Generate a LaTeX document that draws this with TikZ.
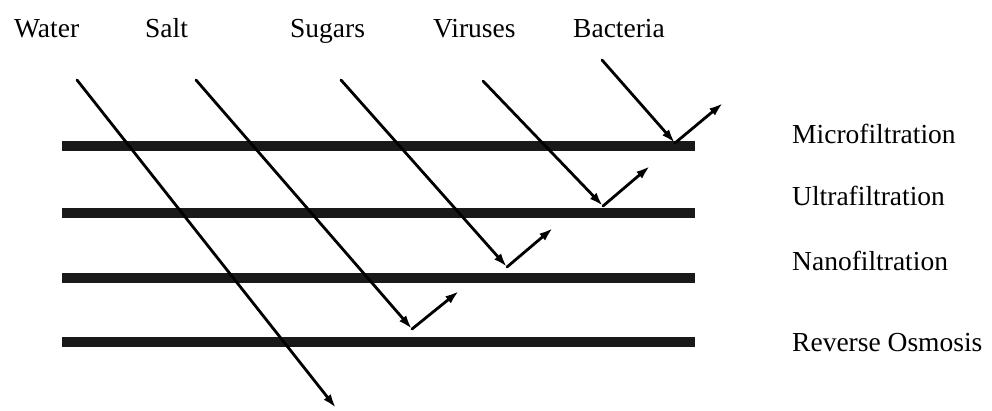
\documentclass[tikz,border=0pt]{standalone}
\usepackage{fontspec}
\setmainfont{Liberation Serif}
\usepackage{tikz}
\usetikzlibrary{arrows.meta, positioning}

\begin{document}
\begin{tikzpicture}[
  x=1pt, y=-1pt,
  lbl/.style={font=\fontsize{27.5}{32}\selectfont, inner sep=0pt, anchor=base west},
  membrane/.style={line width=10pt, black!90},
  flow/.style={-{Latex[length=14pt, width=9pt]}, line width=2.8pt, line cap=round}
]
\useasboundingbox (0,0) rectangle (992,410);

\node[lbl] (water)    at (14,37)  {Water};
\node[lbl] (salt)     at (145,37) {Salt};
\node[lbl] (sugars)   at (290,37) {Sugars};
\node[lbl] (viruses)  at (433,37) {Viruses};
\node[lbl] (bacteria) at (573,37) {Bacteria};

\node[lbl] (micro) at (792,143) {Microfiltration};
\node[lbl] (ultra) at (792,205) {Ultrafiltration};
\node[lbl] (nano)  at (792,270) {Nanofiltration};
\node[lbl] (ro)    at (792,351) {Reverse Osmosis};

\coordinate (m1l) at (62,146);  \coordinate (m1r) at (695,146);
\coordinate (m2l) at (62,213);  \coordinate (m2r) at (695,213);
\coordinate (m3l) at (62,278);  \coordinate (m3r) at (695,278);
\coordinate (m4l) at (62,342);  \coordinate (m4r) at (695,342);
\draw[membrane] (m1l) -- (m1r);
\draw[membrane] (m2l) -- (m2r);
\draw[membrane] (m3l) -- (m3r);
\draw[membrane] (m4l) -- (m4r);

\coordinate (w0) at (77,80);   \coordinate (w1) at (336,408);
\coordinate (s0) at (196,80);  \coordinate (s1) at (412,329); \coordinate (s2) at (459,291);
\coordinate (g0) at (341,80);  \coordinate (g1) at (507,267); \coordinate (g2) at (553,228);
\coordinate (v0) at (483,81);  \coordinate (v1) at (603,206); \coordinate (v2) at (650,166);
\coordinate (b0) at (602,60);  \coordinate (b1) at (675,143); \coordinate (b2) at (723,103);

\draw[flow] (w0) -- (w1);
\draw[flow] (s0) -- (s1);
\draw[flow] (s1) -- (s2);
\draw[flow] (g0) -- (g1);
\draw[flow] (g1) -- (g2);
\draw[flow] (v0) -- (v1);
\draw[flow] (v1) -- (v2);
\draw[flow] (b0) -- (b1);
\draw[flow] (b1) -- (b2);
\end{tikzpicture}
\end{document}
